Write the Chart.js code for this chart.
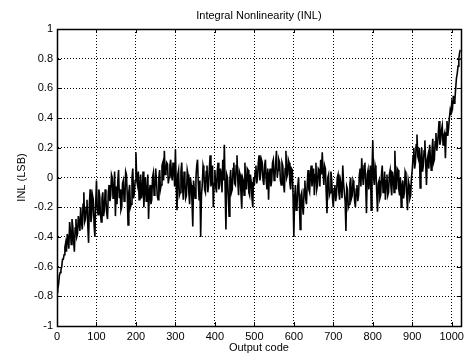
<!DOCTYPE html>
<html>
<head>
<meta charset="utf-8">
<script src="https://cdn.jsdelivr.net/npm/chart.js@4"></script>
<style>
  html, body { margin: 0; padding: 0; background: #fff; }
  #wrap { width: 468px; height: 356px; }
</style>
</head>
<body>
<div id="wrap"><canvas id="inl" width="468" height="356"></canvas></div>
<script>
// INL sampled at every 2nd output code (0, 2, 4, ... 1022), in LSB
const inl = [
  -0.77,-0.75,-0.72,-0.66,-0.64,-0.62,-0.60,-0.55,-0.55,-0.52,
  -0.47,-0.44,-0.50,-0.38,-0.42,-0.48,-0.30,-0.36,-0.45,-0.28,
  -0.33,-0.42,-0.50,-0.34,-0.28,-0.40,-0.38,-0.26,-0.30,-0.36,
  -0.20,-0.30,-0.35,-0.18,-0.10,-0.30,-0.28,-0.20,-0.15,-0.32,
  -0.44,-0.18,-0.08,-0.30,-0.25,-0.12,-0.15,-0.32,-0.40,-0.18,
  // 100
  -0.02,-0.20,-0.25,-0.08,-0.12,-0.24,-0.30,-0.14,-0.10,-0.26,
  -0.22,-0.08,-0.15,-0.24,-0.28,-0.10,-0.05,-0.16,-0.12, 0.02,
   0.00,-0.14,-0.10, 0.04,-0.26,-0.06,-0.18,-0.02, 0.05,-0.14,
  -0.08,-0.22,-0.20,-0.04,-0.02,-0.16,-0.15, 0.04, 0.02,-0.12,
  -0.32,-0.10,-0.05,-0.20,-0.18, 0.00, 0.06,-0.14,-0.10,-0.02,
  // 200
   0.17,-0.02,-0.05, 0.04,-0.15,-0.06, 0.02,-0.14,-0.10, 0.04,
  -0.20,-0.08, 0.00,-0.16,-0.12, 0.02,-0.28,-0.10,-0.05,-0.18,
  -0.15, 0.00, 0.03,-0.12,-0.08, 0.06,-0.02,-0.12,-0.15, 0.00,
   0.05,-0.08,-0.05, 0.08, 0.10,-0.02, 0.18, 0.02, 0.04, 0.10,
   0.09,-0.04, 0.00, 0.08, 0.12, 0.02,-0.02, 0.10, 0.06,-0.06,
  // 300
   0.19,-0.04,-0.22, 0.02, 0.05,-0.12,-0.10, 0.04, 0.10,-0.06,
  -0.15, 0.04,-0.02,-0.14,-0.12, 0.05, 0.02,-0.10,-0.18, 0.00,
  -0.05,-0.16,-0.33,-0.02,-0.08,-0.14, 0.00, 0.08, 0.12,-0.04,
  -0.15,-0.02,-0.40,-0.12,-0.05, 0.08, 0.05,-0.08,-0.10, 0.04,
   0.08,-0.10,-0.05, 0.06, 0.15,-0.06,-0.02, 0.08,-0.20,-0.04,
  // 400
   0.05,-0.06,-0.10, 0.04, 0.10,-0.08,-0.05, 0.06, 0.02,-0.10,
   0.12,-0.02, 0.22,-0.08,-0.35, 0.02, 0.00,-0.12,-0.26,-0.02,
   0.05,-0.10,-0.08, 0.06, 0.10,-0.04,-0.05, 0.08, 0.15,-0.02,
  -0.12, 0.04, 0.02,-0.10,-0.21, 0.00,-0.02,-0.12, 0.10,-0.04,
  -0.08, 0.06, 0.05,-0.10,-0.12, 0.02,-0.03,-0.14,-0.20, 0.00,
  // 500
  -0.05, 0.04, 0.08,-0.04, 0.00, 0.10, 0.15,-0.02, 0.02, 0.12,
   0.10,-0.02,-0.05, 0.08, 0.12,-0.02,-0.08, 0.06,-0.15, 0.02,
   0.06,-0.06,-0.02, 0.10, 0.12,-0.02, 0.00, 0.10, 0.18, 0.00,
   0.05, 0.12, 0.10,-0.02,-0.05, 0.10, 0.08,-0.04,-0.10, 0.06,
   0.18, 0.00, 0.02, 0.12, 0.10,-0.04,-0.08, 0.06, 0.05,-0.12,
  // 600
  -0.40,-0.14,-0.05,-0.22,-0.20,-0.06, 0.00,-0.16,-0.35,-0.12,
  -0.10,-0.20,-0.25,-0.08,-0.02,-0.14,-0.18,-0.04, 0.05,-0.08,
  -0.10, 0.02, 0.08,-0.06, 0.00, 0.06,-0.12, 0.02, 0.10,-0.08,
  -0.05, 0.06, 0.05,-0.06, 0.12, 0.02, 0.17, 0.04,-0.05, 0.08,
   0.06,-0.10,-0.24, 0.00, 0.02,-0.12,-0.10, 0.04,-0.02,-0.14,
  // 700
  -0.20,-0.08,-0.05,-0.16,-0.12, 0.00, 0.02,-0.10,-0.15,-0.02,
  -0.05,-0.14, 0.08,-0.04,-0.10,-0.16,-0.36,-0.06,-0.08,-0.20,
  -0.18,-0.04, 0.00,-0.14,-0.12,-0.02,-0.04,-0.16,-0.20,-0.08,
  -0.05,-0.16,-0.12, 0.02, 0.06,-0.06, 0.13, 0.02,-0.05, 0.08,
   0.10,-0.04,-0.24, 0.02, 0.05,-0.08, 0.00, 0.08,-0.22, 0.04,
  // 800
   0.25, 0.00,-0.05, 0.08, 0.05,-0.10,-0.23,-0.04,-0.02,-0.14,
  -0.12, 0.02, 0.08,-0.10,-0.08, 0.04,-0.15,-0.02, 0.02,-0.12,
  -0.10, 0.02, 0.05,-0.06,-0.12, 0.04, 0.00,-0.10, 0.18,-0.02,
  -0.08, 0.06, 0.05,-0.08,-0.12, 0.00,-0.20,-0.06,-0.02,-0.14,
  -0.10, 0.04, 0.02,-0.12,-0.22,-0.02,-0.05,-0.14,-0.12, 0.00,
  // 900
   0.05, 0.14, 0.20, 0.06, 0.10, 0.22, 0.29, 0.14, 0.12, 0.20,
  -0.07, 0.12, 0.20, 0.04, 0.08, 0.18, 0.25, 0.10,-0.05, 0.12,
   0.15, 0.06, 0.22, 0.14, 0.05, 0.18, 0.26, 0.10, 0.12, 0.24,
   0.30, 0.18, 0.22, 0.30, 0.38, 0.22, 0.25, 0.32, 0.35, 0.22,
   0.28, 0.30, 0.13, 0.30, 0.38, 0.28, 0.33, 0.40, 0.45, 0.42,
   0.50, 0.47, 0.55, 0.50, 0.52, 0.60, 0.67, 0.70, 0.75, 0.80,
   0.84, 0.86
];
const codes = inl.map((_, i) => i * 2);

const xTicks = [0, 100, 200, 300, 400, 500, 600, 700, 800, 900, 1000];
const yTicks = [-1, -0.8, -0.6, -0.4, -0.2, 0, 0.2, 0.4, 0.6, 0.8, 1];
const yTickLabels = ['-1', '-0.8', '-0.6', '-0.4', '-0.2', '0', '0.2', '0.4', '0.6', '0.8', '1'];

const titleText = 'Integral Nonlinearity (INL)';
const xTitle = 'Output code';
const yTitle = 'INL (LSB)';

const FONT = 'Liberation Sans, Arial, sans-serif';

// Axes box with short inward tick marks on all four sides, plus the title
const boxPlugin = {
  id: 'box',
  afterDatasetsDraw(chart) {
    const { ctx, chartArea: a, scales } = chart;
    ctx.save();
    ctx.strokeStyle = '#000';
    ctx.lineWidth = 1;
    ctx.beginPath();
    const tl = 4;
    xTicks.forEach(v => {
      const x = Math.round(scales.x.getPixelForValue(v)) + 0.5;
      ctx.moveTo(x, a.bottom); ctx.lineTo(x, a.bottom - tl);
      ctx.moveTo(x, a.top); ctx.lineTo(x, a.top + tl);
    });
    yTicks.forEach(v => {
      const y = Math.round(scales.y.getPixelForValue(v)) + 0.5;
      ctx.moveTo(a.left, y); ctx.lineTo(a.left + tl, y);
      ctx.moveTo(a.right, y); ctx.lineTo(a.right - tl, y);
    });
    ctx.stroke();
    ctx.lineWidth = 1.5;
    ctx.strokeRect(Math.round(a.left) + 0.5, Math.round(a.top) + 0.5,
                   Math.round(a.right - a.left), Math.round(a.bottom - a.top));
    ctx.restore();
  },
  afterDraw(chart) {
    const { ctx, chartArea: a } = chart;
    ctx.save();
    ctx.fillStyle = '#000';
    ctx.font = '11px ' + FONT;
    ctx.textAlign = 'center';
    ctx.textBaseline = 'middle';
    ctx.fillText(titleText, (a.left + a.right) / 2, 16);
    ctx.restore();
  }
};

new Chart(document.getElementById('inl'), {
  type: 'line',
  data: {
    labels: codes,
    datasets: [{
      data: codes.map((c, i) => ({ x: c, y: inl[i] })),
      borderColor: '#000',
      borderWidth: 1.6,
      pointRadius: 0,
      tension: 0,
      fill: false
    }]
  },
  options: {
    responsive: false,
    animation: false,
    events: [],
    layout: { padding: { top: 29, right: 2, left: 0, bottom: 0 } },
    plugins: { legend: { display: false }, tooltip: { enabled: false }, title: { display: false } },
    scales: {
      x: {
        type: 'linear',
        min: 0,
        max: 1023,
        afterBuildTicks: s => { s.ticks = xTicks.map(v => ({ value: v })); },
        afterFit: s => { s.height = 30; },
        ticks: {
          color: '#000',
          font: { family: FONT, size: 11 },
          padding: 4,
          maxRotation: 0,
          autoSkip: false,
          callback: v => String(v)
        },
        grid: { color: '#000', lineWidth: 1, drawTicks: false },
        border: { display: true, color: '#000', width: 1, dash: [1, 2] },
        title: {
          display: true,
          text: xTitle,
          color: '#000',
          font: { family: FONT, size: 11 },
          padding: { top: 0, bottom: 1.5 }
        }
      },
      y: {
        type: 'linear',
        min: -1,
        max: 1,
        afterBuildTicks: s => { s.ticks = yTicks.map(v => ({ value: v })); },
        afterFit: s => { s.width = 57; },
        ticks: {
          color: '#000',
          font: { family: FONT, size: 11 },
          padding: 4,
          autoSkip: false,
          callback: (v) => {
            const i = yTicks.findIndex(t => Math.abs(t - v) < 1e-9);
            return i >= 0 ? yTickLabels[i] : '';
          }
        },
        grid: { color: '#000', lineWidth: 1, drawTicks: false },
        border: { display: true, color: '#000', width: 1, dash: [1, 2] },
        title: {
          display: true,
          text: yTitle,
          color: '#000',
          font: { family: FONT, size: 11 },
          padding: { top: 15, bottom: 0 }
        }
      }
    }
  },
  plugins: [boxPlugin]
});
</script>
</body>
</html>
